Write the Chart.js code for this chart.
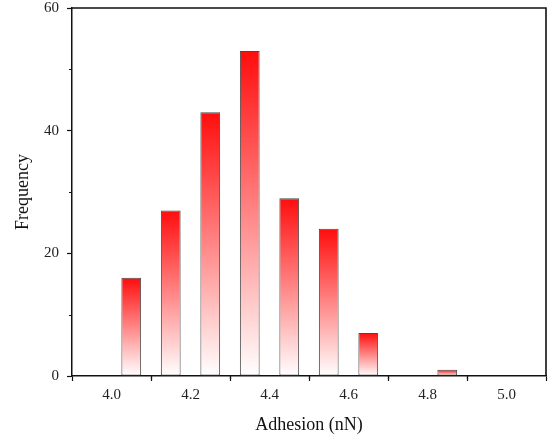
<!DOCTYPE html>
<html>
<head>
<meta charset="utf-8">
<script src="https://cdn.jsdelivr.net/npm/chart.js@4"></script>
<style>
html,body{margin:0;padding:0;background:#fff;}
#wrap{width:550px;height:439px;position:relative;}
</style>
</head>
<body>
<div id="wrap"><canvas id="c" width="550" height="439"></canvas></div>
<script>
const binCenters = [4.05, 4.15, 4.25, 4.35, 4.45, 4.55, 4.65, 4.85];
const frequencies = [16, 27, 43, 53, 29, 24, 7, 1];
const xTickValues = [4.0, 4.2, 4.4, 4.6, 4.8, 5.0];
const xMinorTicks = [4.1, 4.3, 4.5, 4.7, 4.9];
const yTickValues = [0, 20, 40, 60];
const yMinorTicks = [10, 30, 50];
const xTitle = 'Adhesion (nN)';
const yTitle = 'Frequency';

const serif = '"Liberation Serif", "Times New Roman", serif';

const frame = {
  id: 'frame',
  afterDraw(chart) {
    const {ctx, chartArea: a, scales} = chart;
    ctx.save();
    ctx.strokeStyle = '#111';
    ctx.lineWidth = 1.6;
    ctx.beginPath();
    ctx.moveTo(a.left, a.top); ctx.lineTo(a.right, a.top); ctx.lineTo(a.right, a.bottom);
    ctx.stroke();
    ctx.lineWidth = 1.2;
    ctx.beginPath();
    xMinorTicks.forEach(v => {
      const px = Math.round(scales.x.getPixelForValue(v)) + 0.5;
      ctx.moveTo(px, a.bottom); ctx.lineTo(px, a.bottom + 3);
    });
    yMinorTicks.forEach(v => {
      const py = Math.round(scales.y.getPixelForValue(v)) + 0.5;
      ctx.moveTo(a.left, py); ctx.lineTo(a.left - 3, py);
    });
    ctx.stroke();
    ctx.restore();
  }
};

new Chart(document.getElementById('c'), {
  type: 'bar',
  data: {
    datasets: [{
      data: binCenters.map((x, i) => ({x: x, y: frequencies[i]})),
      backgroundColor: (c) => {
        const chart = c.chart;
        if (!chart.chartArea || !c.raw) return '#ff4444';
        const ys = chart.scales.y;
        const top = ys.getPixelForValue(c.raw.y);
        const bot = ys.getPixelForValue(0);
        const g = chart.ctx.createLinearGradient(0, top, 0, bot);
        g.addColorStop(0, '#ff0d0d');
        g.addColorStop(1, '#ffffff');
        return g;
      },
      borderColor: '#4a4a4a',
      borderWidth: 1,
      barPercentage: 0.5,
      categoryPercentage: 1.0,
      borderSkipped: false
    }]
  },
  options: {
    responsive: false,
    animation: false,
    devicePixelRatio: 1,
    layout: {padding: {top: 8, right: 4, left: 0, bottom: 0}},
    plugins: {legend: {display: false}, tooltip: {enabled: false}},
    scales: {
      x: {
        type: 'linear',
        min: 3.9, max: 5.1,
        offset: false,
        afterBuildTicks: (s) => { s.ticks = xTickValues.map(v => ({value: v})); },
        afterFit: (s) => { s.height = 63; s.paddingLeft = 0; s.paddingRight = 0; },
        ticks: {
          callback: (v) => Number(v).toFixed(1),
          color: '#222',
          font: {family: serif, size: 15},
          padding: 5,
          maxRotation: 0,
          autoSkip: false
        },
        grid: {drawOnChartArea: false, drawTicks: true, tickLength: 5, tickWidth: 1.2, tickColor: '#111'},
        border: {display: true, color: '#111', width: 1.5},
        title: {display: true, text: xTitle, color: '#111', font: {family: serif, size: 18}, padding: {top: 6, bottom: 3}}
      },
      y: {
        min: 0, max: 60,
        afterBuildTicks: (s) => { s.ticks = yTickValues.map(v => ({value: v})); },
        afterFit: (s) => { s.width = 72; s.paddingTop = 0; s.paddingBottom = 0; },
        ticks: {
          color: '#222',
          font: {family: serif, size: 15},
          padding: 8
        },
        grid: {drawOnChartArea: false, drawTicks: true, tickLength: 5, tickWidth: 1.2, tickColor: '#111'},
        border: {display: true, color: '#111', width: 1.5},
        title: {display: true, text: yTitle, color: '#111', font: {family: serif, size: 18}, padding: {top: 12, bottom: 4}}
      }
    }
  },
  plugins: [frame]
});
</script>
</body>
</html>
